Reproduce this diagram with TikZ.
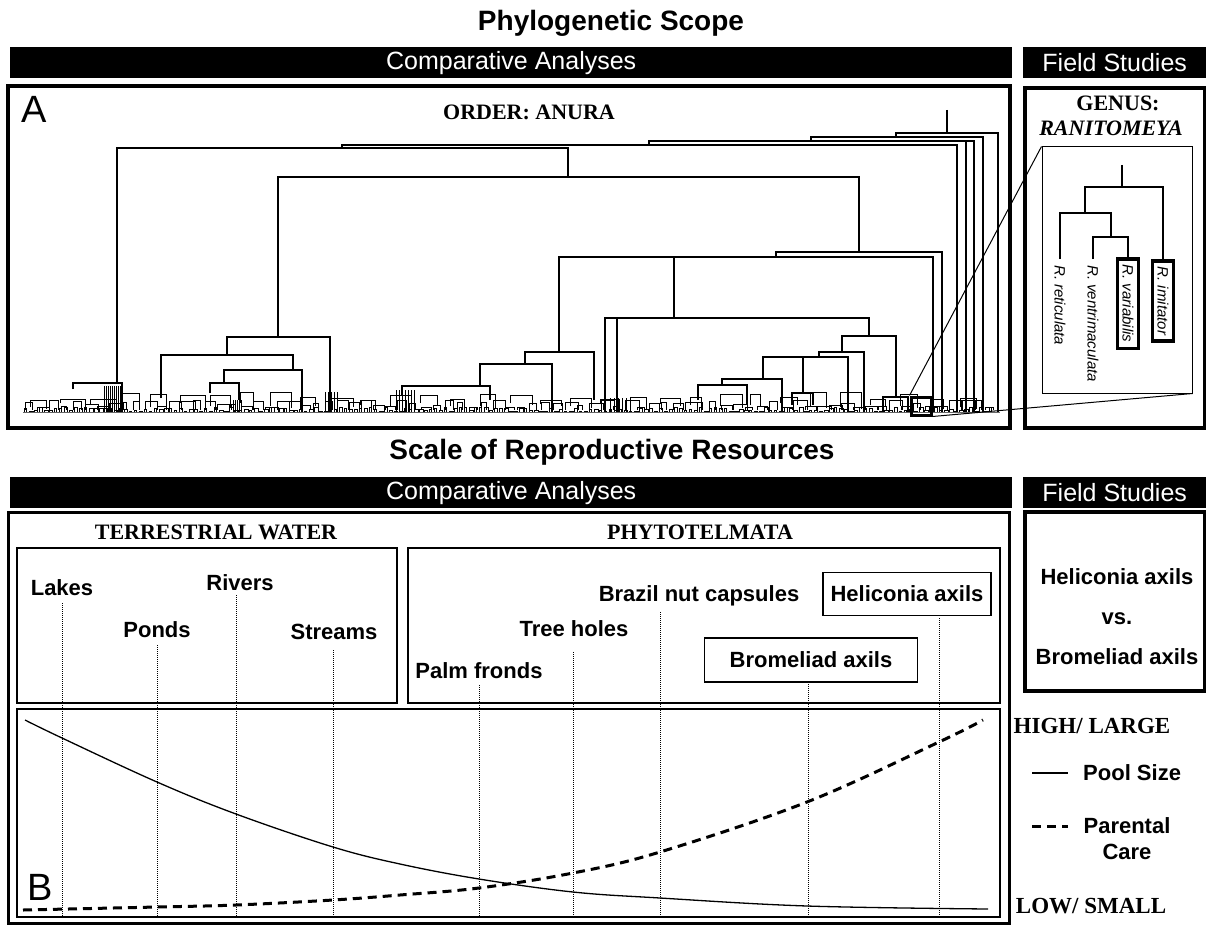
\documentclass[tikz,border=0pt]{standalone}
\usepackage{fontspec}
\setmainfont{Liberation Sans}
\newfontfamily\tms{Liberation Serif}
\usetikzlibrary{positioning,calc}

\newcommand\fsz[1]{\fontsize{#1}{#1}\selectfont}

\begin{document}
\begin{tikzpicture}[
  x=1pt, y=-1pt,
  heading/.style={font=\bfseries\fsz{28}, inner sep=0},
  bar/.style={fill=black, text=white, font=\fsz{25}, minimum height=31, inner sep=0, anchor=north west},
  panel/.style={draw, line width=3.5},
  thinbox/.style={draw, line width=1.2},
  tlabel/.style={font=\tms\bfseries\fsz{22}, inner sep=0},
  lbl/.style={font=\bfseries\fsz{22}, inner sep=0},
  sp/.style={font=\itshape\fsz{15}, rotate=-90, anchor=west, inner xsep=6, inner ysep=5},
  spbox/.style={sp, draw, line width=3.5},
  br/.style={line width=1.3},
  twig/.style={line width=0.9},
  dotline/.style={line width=0.9, dash pattern=on 1pt off 1pt},
  care/.style={line width=3, dash pattern=on 9pt off 6pt}
]
\path[use as bounding box, fill=white] (0,0) rectangle (1206,928);

% ---- phylogenetic scope
\node[heading] (phylo) at (611,23) {Phylogenetic Scope};
\node[bar, minimum width=1002] (cmpA) at (10,47) {Comparative Analyses};
\node[bar, minimum width=183] (fieldA) at (1023,47) {Field Studies};

\draw[panel] (8,86) rectangle (1010,428);
\draw[panel] (1025,88) rectangle (1204.5,428);

\node[font=\fsz{38}, inner sep=0] (labA) at (34,109) {A};
\node[tlabel] (order) at (529,112) {ORDER: ANURA};
\node[tlabel] (genus) at (1118,103) {GENUS:};
\node[tlabel, font=\tms\bfseries\itshape\fsz{22}] (genusname) at (1111,128) {RANITOMEYA};

% main tree
\draw[br] (947,110) -- (947,133);
\draw[br] (896,137) |- (998,133) -- (998,412);
\draw[br] (811,141) |- (983,137) -- (983,412);
\draw[br] (649,145) |- (974,141) -- (974,412);
\draw[br] (966,141) -- (966,412);
\draw[br] (342,148) |- (957,145) -- (957,412);
\draw[br] (117,383) |- (568,148) -- (568,177);
\draw[br] (278,337) |- (859,177) -- (859,252);
\draw[br] (776,257) |- (942,252) -- (942,412);
\draw[br] (559,352) |- (933,257) -- (933,412);
\draw[br] (674,257) -- (674,318);
\draw[br] (605,412) |- (869,318) -- (869,336);
\draw[br] (617,318) -- (617,412);
\draw[br] (842,352) |- (896,336) -- (896,397);
\draw[br] (819,357) |- (864,352) -- (864,412);
\draw[br] (763,379) |- (848,357) -- (848,412);
\draw[br] (803,357) -- (803,393);
\draw[br] (722,385) |- (782,379) -- (782,412);
\draw[br] (698,400) |- (747,385) -- (747,405);
\draw[br] (792,405) |- (813,393) -- (813,405);
\draw[br] (883,412) |- (908,397) -- (908,412);
\draw[br] (73,389) |- (122,383) -- (122,412);
\draw[br] (227,355) |- (330,337) -- (330,412);
\draw[br] (161,398) |- (293,355) -- (293,370);
\draw[br] (224,383) |- (302,370) -- (302,412);
\draw[br] (210,393) |- (239,383) -- (239,400);
\draw[br] (525,364) |- (594,352) -- (594,400);
\draw[br] (480,386) |- (552,364) -- (552,412);
\draw[br] (402,395) |- (490,386) -- (490,400);

\foreach \x in {104,106,...,120} \draw[twig] (\x,386) -- (\x,412);
\foreach \x in {233,235,...,241} \draw[twig] (\x,400) -- (\x,412);
\foreach \x in {325,328,...,337} \draw[twig] (\x,392) -- (\x,412);
\foreach \x in {396,399,...,414} \draw[twig] (\x,390) -- (\x,412);
\foreach \x in {610,614,...,630} \draw[twig] (\x,398) -- (\x,412);

\pgfmathsetseed{11}
\foreach \i in {0,...,193}{
  \pgfmathsetmacro\xa{24+5*\i}
  \pgfmathrandominteger{\wa}{2}{4}
  \pgfmathrandominteger{\ha}{1}{5}
  \draw[twig] (\xa,412) |- (\xa+\wa,412-\ha) -- (\xa+\wa,412);
}
\foreach \i in {0,...,80}{
  \pgfmathsetmacro\xa{25+12*\i}
  \pgfmathrandominteger{\wb}{5}{14}
  \pgfmathrandominteger{\hb}{5}{12}
  \draw[twig] (\xa,410) |- (\xa+\wb,412-\hb) -- (\xa+\wb,410);
}
\foreach \i in {0,...,31}{
  \pgfmathsetmacro\xa{30+30*\i}
  \pgfmathrandominteger{\wc}{10}{26}
  \pgfmathrandominteger{\hc}{12}{20}
  \pgfmathrandominteger{\dc}{5}{9}
  \draw[twig] (\xa,412-\dc) |- (\xa+\wc,412-\hc) -- (\xa+\wc,414-\dc);
}
\draw[line width=1, black!60] (23,412) -- (1000,412);

% genus inset
\node[draw, line width=1, minimum width=150, minimum height=246, inner sep=0] (inset) at (1117,270) {};
\node[draw, line width=3, minimum width=20, minimum height=18, inner sep=0] (zbox) at (921,406) {};
\draw[line width=1] (zbox.north west) -- (inset.north west);
\draw[line width=1] (zbox.south east) -- (inset.south east);

\node[sp] (ret) at (1060,259) {R. reticulata};
\node[sp] (vent) at (1093,259) {R. ventrimaculata};
\node[spbox] (var) at (1128,257) {R. variabilis};
\node[spbox] (imi) at (1163,259) {R. imitator};
\draw[br] (1122,165) -- (1122,187);
\draw[br] (1085,213) |- (1163,187) -- (imi.west);
\draw[br] (ret.west) |- (1111,213) -- (1111,237);
\draw[br] (vent.west) |- (1128,237) -- (var.west);

% ---- reproductive resources
\node[heading] (scale) at (612,452) {Scale of Reproductive Resources};
\node[bar, minimum width=1002] (cmpB) at (10,477) {Comparative Analyses};
\node[bar, minimum width=183] (fieldB) at (1023,477) {Field Studies};

\draw[panel, line width=3] (8,512) rectangle (1009,923);
\draw[panel] (1025,512) rectangle (1204.5,691);

\node[tlabel] (terr) at (216,532) {TERRESTRIAL WATER};
\node[tlabel] (phyto) at (700,532) {PHYTOTELMATA};
\draw[thinbox] (17,548) rectangle (397,703);
\draw[thinbox] (408,548) rectangle (1000,703);
\draw[thinbox] (17,709) rectangle (1000,917);

\foreach \x/\y in {62/603, 157/645, 236/595, 333/650, 479/685, 573/652, 660/612, 808/682, 939/618}
  \draw[dotline] (\x,\y) -- (\x,917);

\node[lbl] (lakes) at (62,588) {Lakes};
\node[lbl] (rivers) at (240,583) {Rivers};
\node[lbl] (ponds) at (157,630) {Ponds};
\node[lbl] (streams) at (334,632) {Streams};
\node[lbl] (palm) at (479,671) {Palm fronds};
\node[lbl] (tree) at (574,629) {Tree holes};
\node[lbl] (brazil) at (699,596) {Brazil nut capsules};
\node[lbl, draw, line width=1.2, minimum width=168, minimum height=43] (helbox) at (907,594) {Heliconia axils};
\node[lbl, draw, line width=1.2, minimum width=213, minimum height=44] (brombox) at (811,660) {Bromeliad axils};

\node[lbl] (helv) at (1117,577) {Heliconia axils};
\node[lbl] (vs) at (1117,619) {vs.};
\node[lbl] (bromv) at (1117,657) {Bromeliad axils};

\node[font=\fsz{38}, inner sep=0] (labB) at (40,887) {B};

\draw[line width=1.3] plot[smooth, tension=0.6] coordinates {(25,720) (62,738) (157,782) (236,814) (333,847) (400,864) (479,879) (573,892) (660,898) (807,906) (988,909)};
\draw[care] plot[smooth, tension=0.6] coordinates {(23,910) (157,907) (236,905) (333,900) (400,895) (479,888) (573,873) (660,852) (807,802) (939,742) (983,720)};

\node[tlabel, font=\tms\bfseries\fsz{23}] (high) at (1092,726) {HIGH/ LARGE};
\node[tlabel, font=\tms\bfseries\fsz{23}] (low) at (1091,906) {LOW/ SMALL};
\node[lbl, anchor=west] (pool) at (1083,773) {Pool Size};
\node[lbl, align=center] (parent) at (1127,839) {Parental\\[4pt]Care};
\draw[line width=2.5] (1032,773) -- (1068,773);
\draw[care] (1032,826) -- (1068,826);
\end{tikzpicture}
\end{document}
